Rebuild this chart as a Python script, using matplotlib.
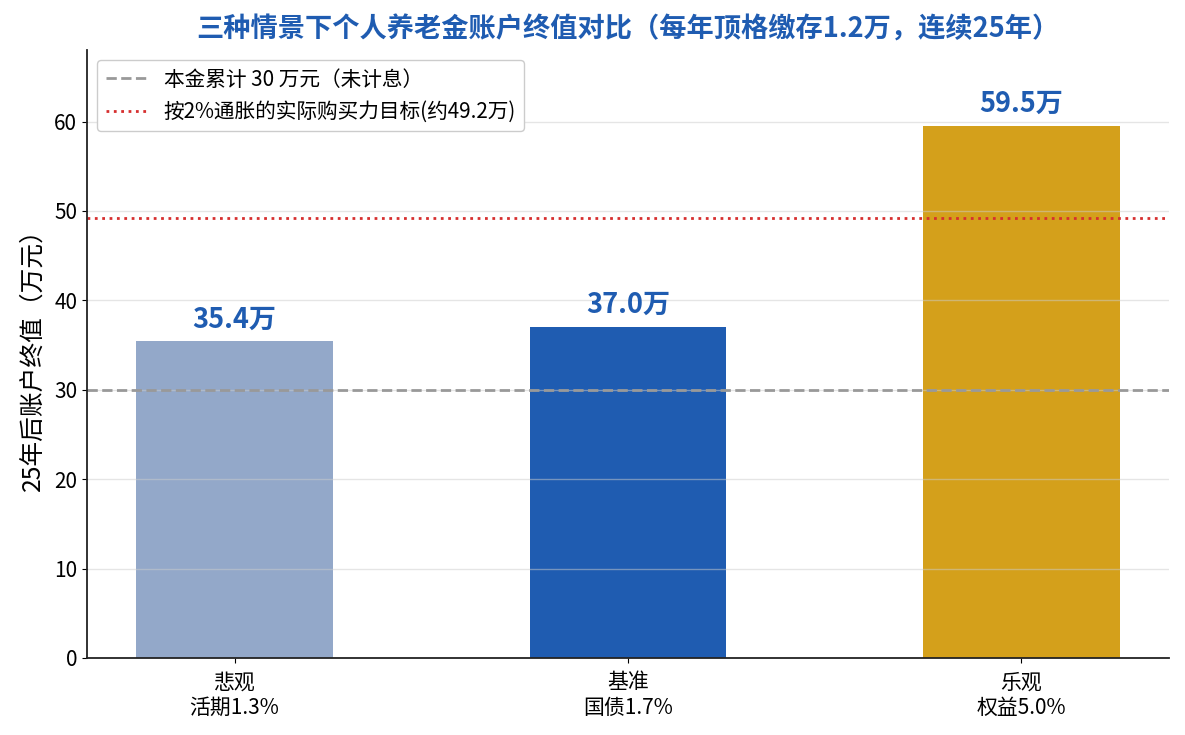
import matplotlib as mpl
mpl.use("Agg")
import matplotlib.pyplot as plt

plt.rcParams['font.family'] = ['Noto Sans CJK SC', 'DejaVu Sans']
plt.rcParams['axes.unicode_minus'] = False

# data
scenarios = ["悲观\n活期1.3%", "基准\n国债1.7%", "乐观\n权益5.0%"]
final_values = [35.4, 37.0, 59.5]
bar_colors = ["#93a8c9", "#1f5cb1", "#d4a01b"]
principal = 30
inflation_target = 49.2

title_blue = "#1f5cb1"

fig, ax = plt.subplots(figsize=(11.85, 7.35), dpi=100)
fig.subplots_adjust(left=0.0734, right=0.9865, bottom=0.1048, top=0.932)

x = list(range(len(scenarios)))
ax.bar(x, final_values, width=0.5, color=bar_colors)

ax.axhline(principal, color="#999999", linestyle="--", linewidth=2,
           label="本金累计 30 万元（未计息）")
ax.axhline(inflation_target, color="#d62f2f", linestyle=":", linewidth=2,
           label="按2%通胀的实际购买力目标(约49.2万)")

for xi, v in zip(x, final_values):
    ax.text(xi, v + 0.9, "%.1f万" % v, ha="center", va="bottom",
            fontsize=19.5, fontweight="bold", color=title_blue)

ax.set_ylim(0, 68)
ax.set_xticks(x)
ax.set_xticklabels(scenarios, fontsize=15)
ax.tick_params(axis="x", pad=6)
ax.tick_params(axis="y", labelsize=15)
ax.set_ylabel("25年后账户终值（万元）", fontsize=17.8, labelpad=6)
ax.set_title("三种情景下个人养老金账户终值对比（每年顶格缴存1.2万，连续25年）",
             fontsize=19.6, fontweight="bold", color=title_blue, pad=9)

ax.grid(axis="y", color="#cccccc", alpha=0.5, linewidth=1)
ax.spines["top"].set_visible(False)
ax.spines["right"].set_visible(False)
for s in ("left", "bottom"):
    ax.spines[s].set_linewidth(1.3)
    ax.spines[s].set_color("#222222")

ax.legend(loc="upper left", fontsize=14.9, framealpha=1, edgecolor="#cccccc")

fig.savefig("out.png", dpi=100)
